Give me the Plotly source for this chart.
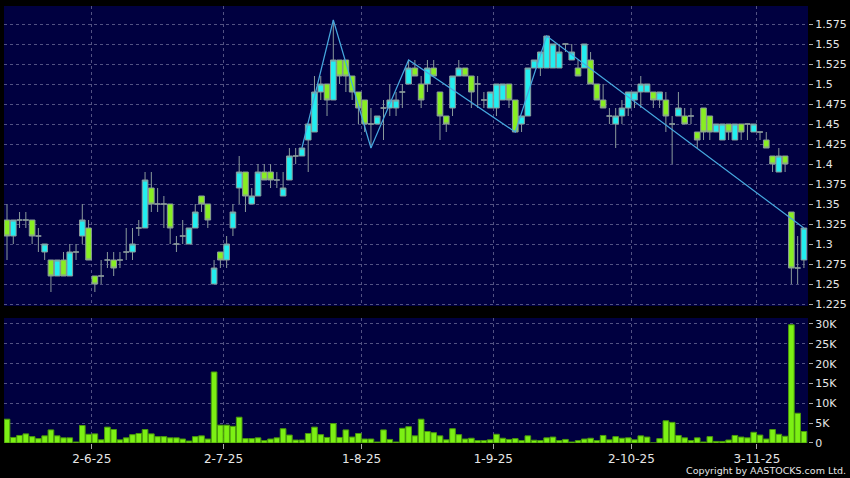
import pandas as pd
import plotly.graph_objects as go

# ---------------- data ----------------
holidays = ['2025-07-01', '2025-10-01', '2025-10-07', '2025-10-29']
trade_days = [d.strftime('%Y-%m-%d') for d in pd.bdate_range('2025-05-14', '2025-11-13')
              if d.strftime('%Y-%m-%d') not in holidays]

open_ = [1.33,1.31,1.33,1.33,1.33,1.31,1.29,1.28,1.26,1.28,1.26,1.29,1.31,1.32,1.26,1.26,1.28,1.28,1.28,1.29,
         1.29,1.32,1.32,1.37,1.35,1.35,1.35,1.30,1.31,1.30,1.32,1.36,1.35,1.25,1.29,1.28,1.32,1.37,1.39,1.35,
         1.36,1.39,1.39,1.38,1.36,1.38,1.41,1.41,1.43,1.44,1.49,1.50,1.48,1.53,1.53,1.51,1.49,1.48,1.45,1.45,
         1.47,1.47,1.47,1.49,1.50,1.52,1.50,1.50,1.52,1.49,1.46,1.47,1.51,1.52,1.51,1.50,1.48,1.47,1.47,1.48,
         1.50,1.48,1.45,1.46,1.52,1.52,1.52,1.52,1.52,1.55,1.53,1.52,1.52,1.53,1.50,1.48,1.46,1.45,1.46,1.47,
         1.48,1.49,1.49,1.49,1.48,1.48,1.45,1.46,1.46,1.46,1.44,1.47,1.46,1.44,1.43,1.45,1.43,1.45,1.45,1.44,
         1.44,1.43,1.41,1.39,1.41,1.34,1.27,1.28]
high = [1.35,1.33,1.34,1.34,1.33,1.32,1.30,1.28,1.28,1.29,1.30,1.30,1.35,1.33,1.26,1.28,1.29,1.29,1.29,1.32,
        1.32,1.33,1.39,1.39,1.37,1.36,1.35,1.31,1.33,1.32,1.35,1.36,1.35,1.28,1.29,1.31,1.35,1.41,1.39,1.37,
        1.40,1.40,1.40,1.39,1.39,1.42,1.42,1.42,1.45,1.51,1.51,1.50,1.58,1.53,1.53,1.51,1.49,1.48,1.47,1.46,
        1.48,1.50,1.49,1.50,1.53,1.53,1.51,1.53,1.53,1.49,1.46,1.51,1.53,1.52,1.51,1.51,1.49,1.49,1.50,1.50,
        1.50,1.48,1.46,1.52,1.53,1.54,1.56,1.55,1.55,1.55,1.55,1.53,1.55,1.54,1.50,1.50,1.47,1.47,1.48,1.49,
        1.49,1.51,1.50,1.49,1.49,1.49,1.46,1.49,1.47,1.47,1.44,1.47,1.46,1.45,1.45,1.45,1.45,1.45,1.45,1.45,
        1.44,1.44,1.41,1.42,1.41,1.34,1.31,1.32]
low = [1.28,1.30,1.32,1.32,1.30,1.29,1.28,1.24,1.26,1.26,1.26,1.28,1.30,1.28,1.24,1.25,1.27,1.26,1.27,1.28,
       1.28,1.31,1.32,1.34,1.34,1.32,1.30,1.29,1.30,1.30,1.32,1.34,1.32,1.25,1.27,1.27,1.31,1.35,1.34,1.35,
       1.36,1.38,1.37,1.37,1.36,1.38,1.40,1.41,1.39,1.44,1.48,1.46,1.48,1.50,1.49,1.48,1.45,1.44,1.42,1.45,
       1.43,1.46,1.46,1.47,1.50,1.51,1.47,1.49,1.51,1.43,1.44,1.46,1.51,1.51,1.47,1.47,1.47,1.47,1.46,1.48,
       1.47,1.44,1.44,1.46,1.52,1.51,1.52,1.52,1.52,1.54,1.53,1.51,1.52,1.50,1.48,1.47,1.45,1.42,1.45,1.46,
       1.47,1.47,1.49,1.47,1.47,1.44,1.40,1.46,1.45,1.45,1.42,1.43,1.43,1.44,1.43,1.43,1.43,1.43,1.43,1.44,
       1.43,1.42,1.39,1.39,1.39,1.25,1.25,1.27]
close = [1.31,1.33,1.33,1.33,1.31,1.31,1.30,1.26,1.28,1.26,1.29,1.29,1.33,1.28,1.25,1.26,1.28,1.27,1.28,1.29,
         1.30,1.32,1.38,1.35,1.35,1.35,1.32,1.30,1.31,1.32,1.34,1.35,1.33,1.27,1.28,1.30,1.34,1.39,1.36,1.36,
         1.39,1.38,1.38,1.38,1.37,1.41,1.41,1.42,1.45,1.49,1.50,1.48,1.53,1.51,1.51,1.49,1.47,1.45,1.45,1.46,
         1.47,1.48,1.48,1.49,1.52,1.51,1.48,1.52,1.51,1.46,1.45,1.51,1.52,1.51,1.49,1.50,1.48,1.49,1.50,1.50,
         1.48,1.44,1.46,1.52,1.53,1.54,1.56,1.55,1.54,1.55,1.54,1.51,1.55,1.50,1.48,1.47,1.46,1.46,1.47,1.49,
         1.49,1.50,1.50,1.48,1.49,1.46,1.45,1.47,1.45,1.46,1.43,1.44,1.44,1.45,1.45,1.44,1.45,1.44,1.45,1.45,
         1.44,1.42,1.40,1.41,1.40,1.27,1.27,1.32]
volume_k = [6.0,1.4,1.9,2.3,1.6,1.1,1.8,3.3,1.8,1.3,1.3,0.25,4.4,2.2,2.3,0.8,4.0,3.4,0.8,1.3,
            2.1,2.4,3.4,2.3,1.6,1.6,1.3,1.3,1.0,0.5,1.6,1.8,1.0,17.9,4.5,4.5,4.2,6.5,1.1,1.1,
            1.3,0.6,1.0,1.3,3.6,2.0,0.75,0.75,2.4,4.0,2.1,1.4,4.9,1.4,3.3,1.5,2.4,1.0,1.0,0.25,
            3.3,0.9,0.25,3.7,4.1,1.8,6.0,2.9,2.6,1.8,0.8,3.6,2.1,1.0,1.2,0.6,0.6,0.8,2.2,1.2,
            0.9,1.1,0.6,1.8,0.7,0.6,1.3,1.5,0.6,0.9,0.25,0.6,1.0,1.2,0.6,1.9,0.8,1.6,1.2,1.3,
            0.8,1.8,1.5,0.0,1.1,5.6,5.2,1.9,1.3,0.6,1.3,0.25,1.6,0.4,0.4,0.75,1.9,1.5,1.3,2.7,
            2.0,1.0,3.4,2.2,1.7,29.8,7.5,2.9]
volume = [v * 1000 for v in volume_k]

# zigzag pivots (trading-day index, price)
zz_idx = [47, 52, 58, 64, 81, 86, 127]
zz_values = [1.42, 1.58, 1.42, 1.53, 1.44, 1.56, 1.32]

month_first_days = ['2025-06-02', '2025-07-02', '2025-08-01', '2025-09-01', '2025-10-02', '2025-11-03']
x_tick_text = ['2-6-25', '2-7-25', '1-8-25', '1-9-25', '2-10-25', '3-11-25']
price_ticks = [1.225, 1.25, 1.275, 1.3, 1.325, 1.35, 1.375, 1.4, 1.425, 1.45, 1.475, 1.5, 1.525, 1.55, 1.575]
price_tick_text = ['1.225', '1.25', '1.275', '1.3', '1.325', '1.35', '1.375', '1.4', '1.425', '1.45',
                   '1.475', '1.5', '1.525', '1.55', '1.575']
vol_ticks = [0, 5000, 10000, 15000, 20000, 25000, 30000]
vol_tick_text = ['0', '5K', '10K', '15K', '20K', '25K', '30K']

# ---------------- styling ----------------
BG = '#000040'
GRID = 'rgba(150,150,185,0.55)'
TXT = '#e6e6e6'
FONT = 'DejaVu Sans'
CYAN = '#22eef0'
LIME = '#88ee22'
EDGE = '#8a9a9a'

n = len(trade_days)
xs = list(range(n))                       # one slot per trading day
tick_pos = [trade_days.index(d) + 0.5 for d in month_first_days]

fig = go.Figure()
fig.add_trace(go.Candlestick(
    x=xs, open=open_, high=high, low=low, close=close,
    increasing=dict(fillcolor=CYAN, line=dict(color=EDGE, width=1)),
    decreasing=dict(fillcolor=LIME, line=dict(color=EDGE, width=1)),
    whiskerwidth=0, showlegend=False, hoverinfo='skip', xaxis='x', yaxis='y'))
fig.add_trace(go.Scatter(
    x=zz_idx, y=zz_values, mode='lines', line=dict(color='#46a8de', width=1.2),
    showlegend=False, hoverinfo='skip', xaxis='x', yaxis='y'))
fig.add_trace(go.Bar(
    x=xs, y=volume, marker=dict(color='#7cf014', line=dict(color='#4a9a0c', width=1)),
    showlegend=False, hoverinfo='skip', xaxis='x2', yaxis='y2'))

xr = [-0.48, n - 1 + 0.65]
common_x = dict(type='linear', range=xr, showgrid=True, gridcolor=GRID, griddash='3px,3px',
                gridwidth=1, tickmode='array', tickvals=tick_pos, zeroline=False, showline=False)

fig.update_layout(
    width=850, height=478,
    margin=dict(l=4, r=42, t=6, b=35),
    paper_bgcolor='black', plot_bgcolor=BG,
    font=dict(family=FONT, size=11, color=TXT),
    boxgap=0.1, boxgroupgap=0, bargap=0.1,
    showlegend=False,
    xaxis=dict(common_x, anchor='y', showticklabels=False, ticks='',
               rangeslider=dict(visible=False), domain=[0, 1]),
    xaxis2=dict(common_x, anchor='y2', ticktext=x_tick_text, ticks='outside', ticklen=5,
                tickcolor='#aaaaaa', tickfont=dict(size=12, color=TXT, family=FONT), domain=[0, 1]),
    yaxis=dict(domain=[0.3135, 1], side='right', range=[1.2225, 1.5975],
               tickvals=price_ticks, ticktext=price_tick_text, ticks='outside', ticklen=4,
               tickcolor='#aaaaaa', showgrid=True, gridcolor=GRID, griddash='3px,3px',
               zeroline=False, showline=False, tickfont=dict(size=11, color=TXT)),
    yaxis2=dict(domain=[0, 0.286], side='right', range=[0, 31500],
                tickvals=vol_ticks, ticktext=vol_tick_text, ticks='outside', ticklen=4,
                tickcolor='#aaaaaa', showgrid=True, gridcolor=GRID, griddash='3px,3px',
                zeroline=False, showline=False, tickfont=dict(size=11, color=TXT)),
    annotations=[dict(text='Copyright by AASTOCKS.com Ltd.', xref='paper', yref='paper',
                      x=1.0498, y=-0.064, xanchor='right', yanchor='middle', showarrow=False,
                      font=dict(size=9.5, color=TXT, family=FONT))],
)

fig.write_html('out.html', config={'displayModeBar': False, 'staticPlot': True},
               post_script="document.body.style.margin='0px';document.body.style.overflow='hidden';"
                           "document.body.style.background='black';")
